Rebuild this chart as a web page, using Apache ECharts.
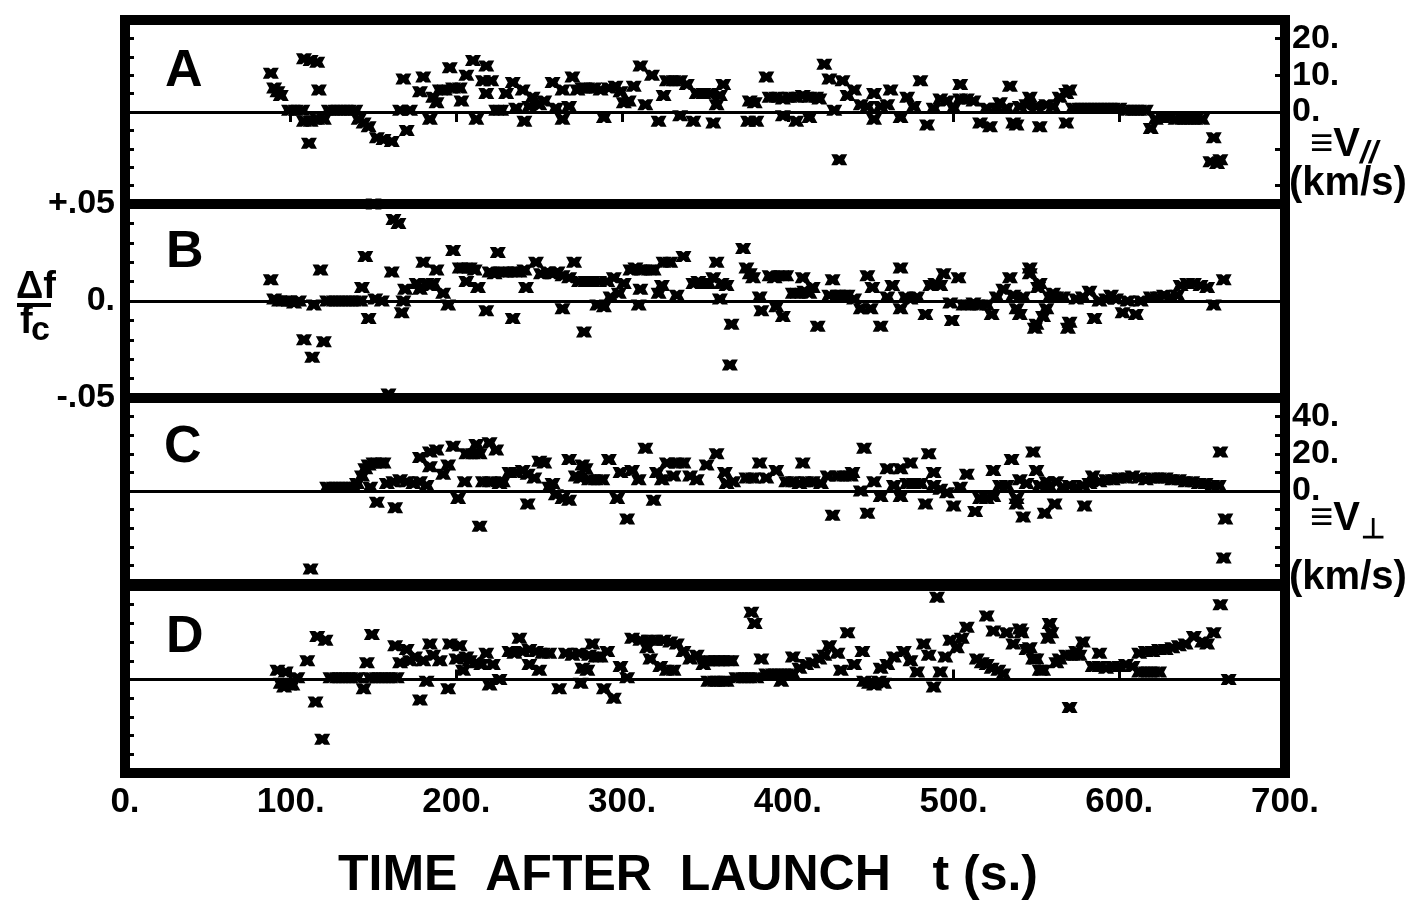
<!DOCTYPE html>
<html>
<head>
<meta charset="utf-8">
<script src="https://cdn.jsdelivr.net/npm/echarts@6/dist/echarts.min.js"></script>
<style>
  html, body { margin: 0; padding: 0; background: #fff; }
  #chart { width: 1423px; height: 905px; }
</style>
</head>
<body>
<div id="chart"></div>
<script>
// time after launch (s) vs. delta f / f_c
const timeTicks = [0, 100, 200, 300, 400, 500, 600, 700];
const dfTicks = [-0.04, -0.03, -0.02, -0.01, 0, 0.01, 0.02, 0.03, 0.04];
const dfLabels = [-0.05, 0, 0.05];
const vParTicks = [-20, -10, 0, 10, 20];
const vParLabels = [0, 10, 20];
const vPerpTicks = [-40, -30, -20, -10, 0, 10, 20, 30, 40];
const vPerpLabels = [0, 20, 40];

const panelA = [
  [88,0.021],[90,0.013],[92,0.011],[94,0.009],[99,0.001],[103,0.001],[107,0.001],
  [108,0.029],[112,0.028],[116,0.027],[117,0.012],[108,-0.005],[112,-0.005],[116,-0.004],[120,-0.004],
  [111,-0.017],[123,0.001],[127,0.001],[131,0.001],[135,0.001],[139,0.001],
  [141,-0.004],[144,-0.006],[147,-0.008],[152,-0.014],[156,-0.015],[161,-0.016],
  [168,0.018],[170,-0.010],[166,0.001],[172,0.001],[178,0.011],[180,0.019],[184,-0.004],[186,0.008],[188,0.005],
  [190,0.012],[193,0.012],[196,0.024],[198,0.013],[202,0.013],[203,0.006],[206,0.020],[210,0.028],[212,-0.004],
  [216,0.017],[218,0.025],[218,0.010],[221,0.017],[224,0.001],[227,0.001],
  [230,0.010],[234,0.016],[236,0.002],[240,0.012],[241,-0.005],[244,0.003],[246,0.008],[250,0.004],[253,0.006],
  [258,0.016],[260,0.002],[264,0.012],[264,-0.004],[268,0.003],[270,0.019],[273,0.012],[276,0.013],
  [279,0.013],[283,0.013],[287,0.012],[289,-0.003],[292,0.013],[296,0.014],[299,0.011],[301,0.005],[304,0.006],
  [307,0.014],[311,0.025],[314,0.004],[318,0.020],[322,-0.005],[325,0.009],[327,0.017],[331,0.017],[335,0.017],
  [335,-0.002],[339,0.015],[343,-0.005],[345,0.010],[349,0.010],[353,0.010],[355,-0.006],[357,0.004],[359,0.009],[361,0.015],
  [377,0.006],[376,-0.005],[381,-0.005],[380,0.005],
  [387,0.019],[389,0.008],[393,0.008],[397,-0.002],[397,0.007],[401,0.008],[405,-0.005],[405,0.008],[409,0.009],
  [413,-0.003],[413,0.008],[417,0.008],[419,0.007],[422,0.026],[425,0.018],[428,0.001],[431,-0.026],[433,0.017],
  [436,0.009],[440,0.012],[444,0.004],[448,0.003],[452,0.010],[452,-0.004],[456,0.003],[460,0.004],[462,0.012],
  [468,-0.003],[472,0.008],[476,0.003],[480,0.017],[484,-0.007],[488,0.002],[492,0.007],[496,0.006],[500,0.002],
  [504,0.015],[504,0.007],[508,0.007],[512,0.006],[516,-0.006],[520,0.002],[522,-0.008],[526,0.002],[528,0.005],
  [532,0.002],[534,0.014],[536,-0.006],[538,-0.007],[540,0.003],[544,0.004],[546,0.008],[550,0.003],[552,-0.008],
  [556,0.004],[560,0.003],[564,0.008],[568,-0.006],[568,0.010],[570,0.012],
  [572,0.002],[576,0.002],[580,0.002],[584,0.002],[588,0.002],[592,0.002],[596,0.002],[600,0.002],
  [604,0.001],[608,0.001],[612,0.001],[616,0.001],[619,-0.009],[622,-0.004],[626,-0.003],[630,-0.003],
  [634,-0.004],[638,-0.004],[642,-0.004],[646,-0.004],[650,-0.004],
  [655,-0.027],[657,-0.014],[659,-0.028],[661,-0.026]
];

const panelB = [
  [88,0.011],[90,0.001],[93,0.000],[96,0.000],[99,0.000],[102,-0.001],[105,0.000],
  [108,-0.020],[113,-0.029],[114,-0.002],[118,0.016],[120,-0.021],
  [122,0.000],[126,0.000],[130,0.000],[134,0.000],[138,0.000],[142,0.000],
  [143,0.007],[145,0.023],[147,-0.009],[150,0.050],[151,0.001],[155,0.000],
  [159,-0.048],[161,0.015],[162,0.042],[165,0.040],[167,-0.006],[168,0.000],[169,0.006],
  [176,0.009],[178,0.006],[180,0.020],[182,0.009],[184,0.008],[186,0.009],[188,0.016],
  [192,0.004],[195,-0.002],[198,0.026],[202,0.017],[205,0.017],[206,0.010],[208,0.017],[211,0.016],[213,0.007],
  [218,-0.005],[220,0.015],[223,0.014],[225,0.025],[227,0.015],[230,0.015],[234,-0.009],[235,0.015],[238,0.015],
  [241,0.016],[242,0.007],[248,0.020],[251,0.014],[255,0.015],[258,0.014],[261,0.015],[264,-0.004],[264,0.013],
  [268,0.012],[271,0.020],[274,0.010],[278,0.010],[277,-0.016],[282,0.010],[285,-0.002],[286,0.010],[289,-0.003],
  [291,0.010],[293,0.002],[295,0.012],[298,0.004],[301,0.009],[305,0.016],[308,0.017],[310,-0.002],[311,0.006],
  [312,0.016],[316,0.016],[319,0.016],[322,0.004],[324,0.008],[325,0.020],[329,0.020],[333,0.003],[337,0.023],
  [343,0.009],[346,0.010],[349,0.009],[352,0.009],[355,0.012],[357,0.020],[359,0.001],[360,0.009],[363,0.008],
  [365,-0.033],[366,-0.012],[373,0.027],[375,0.017],[377,0.014],[379,0.012],[383,0.002],[384,-0.005],
  [389,0.013],[392,0.012],[393,-0.003],[396,0.013],[397,-0.008],[399,0.013],
  [403,0.004],[406,0.004],[409,0.012],[410,0.005],[413,0.004],[415,0.007],[418,-0.013],
  [425,0.003],[427,0.011],[430,0.003],[433,0.003],[436,0.003],
  [440,0.001],[444,-0.004],[448,0.013],[450,-0.004],[451,0.007],[456,-0.013],
  [460,0.002],[463,0.008],[468,0.017],[468,-0.004],[471,0.002],[474,0.001],[478,0.002],
  [483,-0.007],[486,0.008],[489,0.009],[492,0.008],[494,0.014],[498,-0.001],[499,-0.010],[503,0.012],
  [506,-0.002],[509,-0.002],[512,-0.001],[516,-0.002],[520,-0.002],[523,-0.007],
  [526,0.002],[530,0.006],[534,0.012],[536,0.003],[538,-0.004],[540,-0.007],[542,0.002],[546,0.017],[546,0.014],
  [549,-0.014],[550,-0.012],[551,0.007],[552,0.009],[554,-0.008],[556,-0.004],[558,0.002],[560,0.004],[562,0.002],
  [566,0.002],[569,-0.014],[570,-0.011],[574,0.001],[578,0.002],[582,0.005],[585,-0.009],
  [588,0.000],[592,0.001],[595,0.003],[598,0.001],[602,-0.006],[605,0.000],[610,-0.007],[613,0.000],
  [619,0.002],[623,0.002],[627,0.003],[631,0.002],[635,0.003],
  [637,0.008],[641,0.009],[645,0.009],[649,0.008],[653,0.007],[657,-0.002],[663,0.011]
];

const panelC = [
  [112,-0.042],[122,0.002],[126,0.002],[130,0.002],[134,0.002],[138,0.002],
  [140,0.004],[143,0.008],[145,0.012],[147,0.014],[150,0.015],[153,0.015],[156,0.015],
  [152,-0.006],[148,0.002],[158,0.004],[163,-0.009],[162,0.005],[166,0.006],[170,0.005],[174,0.004],[178,0.005],
  [178,0.018],[182,0.003],[184,0.021],[184,0.013],[188,0.022],[192,0.009],[195,0.014],[198,0.024],
  [201,-0.004],[205,0.005],[206,0.020],[210,0.020],[212,0.025],[214,0.020],[214,-0.019],
  [216,0.005],[220,0.026],[220,0.005],[224,0.022],[226,0.004],[228,0.005],
  [232,0.010],[236,0.010],[240,0.011],[243,-0.007],[243,0.009],[247,0.007],
  [250,0.016],[253,0.015],[256,0.002],[258,0.004],[260,-0.002],[264,-0.004],[268,-0.005],[268,0.017],
  [272,0.008],[275,0.007],[276,0.014],[278,0.012],[280,0.006],[284,0.006],[288,0.006],
  [292,0.017],[297,-0.004],[299,0.010],[303,-0.015],[306,0.011],[310,0.006],[314,0.023],[319,-0.005],
  [321,0.010],[324,0.006],[327,0.015],[331,0.008],[333,0.015],[337,0.015],[341,0.008],[345,0.006],
  [351,0.014],[357,0.020],[362,0.010],[363,0.004],[367,0.005],
  [375,0.007],[379,0.007],[383,0.015],[387,0.007],[393,0.011],
  [399,0.005],[403,0.005],[407,0.004],[409,0.015],[411,0.005],[415,0.005],
  [420,0.004],[424,0.008],[427,-0.013],[430,0.008],[434,0.008],[438,0.008],
  [439,0.010],[444,0.000],[446,0.023],[448,-0.012],[452,0.005],[456,-0.003],[460,0.012],[464,0.003],
  [468,-0.003],[468,0.012],[472,0.004],[474,0.015],[476,0.004],[480,0.004],[483,-0.007],[485,0.020],[488,0.010],[488,0.003],
  [492,0.001],[496,-0.001],[500,-0.008],[504,0.002],[508,0.009],[513,-0.011],
  [516,-0.004],[520,-0.004],[524,0.011],[524,-0.003],[528,0.003],[532,0.003],[535,0.017],
  [538,-0.004],[538,-0.007],[540,0.006],[542,-0.014],[544,0.004],[548,0.021],[550,0.011],[552,0.003],
  [555,-0.012],[556,0.005],[558,0.002],[561,-0.007],[562,0.005],[566,0.002],[570,0.003],[574,0.002],
  [579,-0.008],[578,0.003],[582,0.004],[584,0.008],
  [588,0.005],[592,0.006],[596,0.006],[600,0.007],[604,0.007],[608,0.008],[612,0.007],[616,0.006],
  [620,0.007],[624,0.007],[628,0.007],[632,0.006],[636,0.006],[640,0.005],[644,0.005],[648,0.004],
  [652,0.004],[656,0.003],[660,0.003],[661,0.021],[664,-0.015],[663,-0.036]
];

const panelD = [
  [92,0.005],[94,-0.002],[96,-0.004],[97,0.004],[99,-0.003],[101,-0.003],[104,0.001],
  [110,0.010],[115,-0.012],[116,0.023],[119,-0.032],[121,0.021],
  [124,0.001],[128,0.001],[132,0.001],[136,0.001],[140,0.001],
  [144,-0.005],[146,0.009],[149,0.024],[148,0.001],[152,0.001],[156,0.001],[160,0.001],[164,0.001],
  [163,0.018],[166,0.009],[170,0.016],[172,0.010],[175,0.012],[178,-0.011],[180,0.010],[182,-0.001],[184,0.019],[186,0.013],
  [190,0.010],[195,-0.005],[196,0.019],[200,0.011],[202,0.018],[204,0.005],[206,0.012],[208,0.010],
  [212,0.009],[215,0.008],[218,0.014],[220,-0.003],[222,0.008],[226,0.000],
  [232,0.015],[235,0.014],[238,0.022],[240,0.015],[244,0.008],[244,0.016],[248,0.015],[250,0.005],[252,0.014],[256,0.014],
  [262,-0.005],[266,0.014],[270,0.013],[274,0.014],[275,-0.002],[276,0.006],[280,0.013],[282,0.019],[284,0.012],[287,0.012],
  [279,0.005],[289,-0.005],[291,0.015],[295,-0.010],[299,0.007],[303,0.001],
  [306,0.022],[311,0.021],[315,0.017],[316,0.021],[317,0.011],[320,0.021],[323,0.007],[325,0.021],[327,0.005],
  [329,0.020],[331,0.005],[333,0.019],[337,0.015],[341,0.011],[345,0.013],[349,0.008],[351,0.010],[354,0.010],
  [357,0.010],[360,0.010],[363,0.010],[366,0.010],[352,-0.001],[356,-0.001],[360,-0.001],[363,-0.001],
  [369,0.001],[373,0.001],[377,0.001],[378,0.036],[380,0.030],[381,0.001],[384,0.011],
  [387,0.003],[391,0.003],[395,0.003],[396,-0.001],[399,0.003],[403,0.012],[403,0.003],
  [407,0.006],[411,0.008],[415,0.009],[419,0.011],[422,0.013],[425,0.018],[430,0.014],[432,0.005],[436,0.025],
  [440,0.008],[445,0.015],[446,-0.001],[449,-0.002],[452,-0.003],[455,-0.001],[458,-0.002],[456,0.006],[460,0.008],
  [464,0.012],[470,0.015],[474,0.010],[478,0.004],[482,0.019],[485,0.013],[488,-0.004],[490,0.044],[492,0.004],
  [495,0.012],[498,0.021],[502,0.017],[505,0.022],[508,0.028],[514,0.011],[517,0.009],[520,0.034],[520,0.008],
  [524,0.026],[523,0.006],[527,0.005],[530,0.003],[532,0.025],[536,0.019],[540,0.027],[541,0.025],[544,0.016],
  [546,0.017],[548,0.011],[550,0.011],[552,0.005],[554,0.005],[557,0.022],[558,0.030],[559,0.025],[562,0.009],
  [564,0.011],[568,0.013],[570,-0.015],[572,0.013],[574,0.015],[576,0.013],[578,0.020],
  [584,0.007],[588,0.014],[588,0.007],[592,0.006],[596,0.007],[600,0.007],[604,0.008],[608,0.007],
  [612,0.004],[616,0.004],[620,0.004],[624,0.004],
  [612,0.014],[616,0.015],[620,0.015],[624,0.016],[628,0.016],[632,0.017],[636,0.018],[640,0.019],
  [645,0.023],[650,0.020],[653,0.019],[657,0.025],[661,0.040],[666,0.000]
];

const FONT = "'Liberation Sans', Arial, sans-serif";
// heavy filled bow-tie cross, like the plotter's marks
const MARK = 'path://M0,0 L5.6,0 L7.5,1.6 L9.4,0 L15,0 L12.2,5 L15,10 L9.4,10 L7.5,8.4 L5.6,10 L0,10 L2.8,5 Z';

const chart = echarts.init(document.getElementById('chart'), null, { renderer: 'canvas' });

const panels = [
  { name: 'A', data: panelA, top: 20, height: 184 },
  { name: 'B', data: panelB, top: 204, height: 194 },
  { name: 'C', data: panelC, top: 398, height: 186 },
  { name: 'D', data: panelD, top: 586, height: 187 },
];

const tickStyle = { show: true, inside: true, length: 10, lineStyle: { color: '#000', width: 3 } };
const labelStyle = { color: '#000', fontFamily: FONT, fontWeight: 'bold', fontSize: 35 };

const grids = panels.map((p) => ({
  left: 125, right: 138, top: p.top, height: p.height,
  show: true, borderColor: '#000', borderWidth: 10, backgroundColor: 'transparent',
}));

const xAxes = panels.map((p, i) => ({
  type: 'value', gridIndex: i, min: 0, max: 700, interval: 100,
  position: i === 0 ? 'top' : 'bottom',
  axisLine: { show: false },
  axisTick: i === 0 || i === 3 ? tickStyle : { show: false },
  splitLine: { show: false },
  axisLabel: i === 3
    ? Object.assign({ show: true, margin: 12, customValues: timeTicks, formatter: (v) => v + '.' }, labelStyle)
    : { show: false },
}));

const yAxes = panels.map((p, i) => ({
  type: 'value', gridIndex: i, min: -0.05, max: 0.05,
  axisLine: { show: false },
  splitLine: { show: false },
  axisTick: Object.assign({ customValues: dfTicks }, tickStyle, { length: 9 }),
  axisLabel: i === 1
    ? Object.assign({
        show: true, margin: 10, customValues: dfLabels,
        formatter: (v) => (v > 0 ? '+.05' : v < 0 ? '-.05' : '0.'),
      }, labelStyle, { fontSize: 34 })
    : { show: false },
}));

yAxes.push({
  type: 'value', gridIndex: 0, position: 'right', min: -25, max: 25,
  axisLine: { show: false }, splitLine: { show: false },
  axisTick: Object.assign({ customValues: vParTicks }, tickStyle),
  axisLabel: Object.assign({ show: true, margin: 7, customValues: vParLabels, formatter: (v) => v + '.',
    padding: [0, 0, 8, 0] }, labelStyle, { fontSize: 34 }),
});
yAxes.push({
  type: 'value', gridIndex: 2, position: 'right', min: -50, max: 50,
  axisLine: { show: false }, splitLine: { show: false },
  axisTick: Object.assign({ customValues: vPerpTicks }, tickStyle),
  axisLabel: Object.assign({ show: true, margin: 7, customValues: vPerpLabels, formatter: (v) => v + '.',
    padding: [0, 0, 10, 0] }, labelStyle, { fontSize: 34 }),
});

const series = panels.map((p, i) => ({
  type: 'scatter', name: p.name, xAxisIndex: i, yAxisIndex: i,
  data: p.data, symbol: MARK, symbolSize: [16, 11],
  itemStyle: { color: '#000', opacity: 1 },
  markLine: {
    silent: true, symbol: ['none', 'none'], label: { show: false },
    lineStyle: { color: '#000', width: 3, type: 'solid' },
    data: [{ yAxis: 0 }],
  },
}));

const txt = (x, y, text, size, extra) => ({
  type: 'text', x, y,
  style: Object.assign({ text, fill: '#000', fontFamily: FONT, fontWeight: 'bold', fontSize: size,
    verticalAlign: 'middle' }, extra || {}),
});

const graphics = [
  txt(165, 72, 'A', 52),
  txt(166, 253, 'B', 52),
  txt(164, 448, 'C', 52),
  txt(166, 638, 'D', 52),
  // delta f over f_c
  txt(16, 288, 'Δf', 38),
  { type: 'rect', shape: { x: 17, y: 303, width: 34, height: 4 }, style: { fill: '#000' } },
  txt(20, 323, 'f', 38),
  txt(31, 331, 'c', 34),
  // right-hand velocity labels
  txt(1310, 145, '≡V', 40),
  txt(1360, 154, '//', 32, { fontStyle: 'italic' }),
  txt(1289, 184, '(km/s)', 40),
  txt(1310, 519, '≡V', 40),
  txt(1361, 530, '⊥', 28),
  txt(1289, 578, '(km/s)', 40),
  txt(688, 876, 'TIME  AFTER  LAUNCH   t (s.)', 50, { align: 'center' }),
];

chart.setOption({
  animation: false,
  backgroundColor: '#fff',
  grid: grids,
  xAxis: xAxes,
  yAxis: yAxes,
  series,
  graphic: graphics,
});
</script>
</body>
</html>
